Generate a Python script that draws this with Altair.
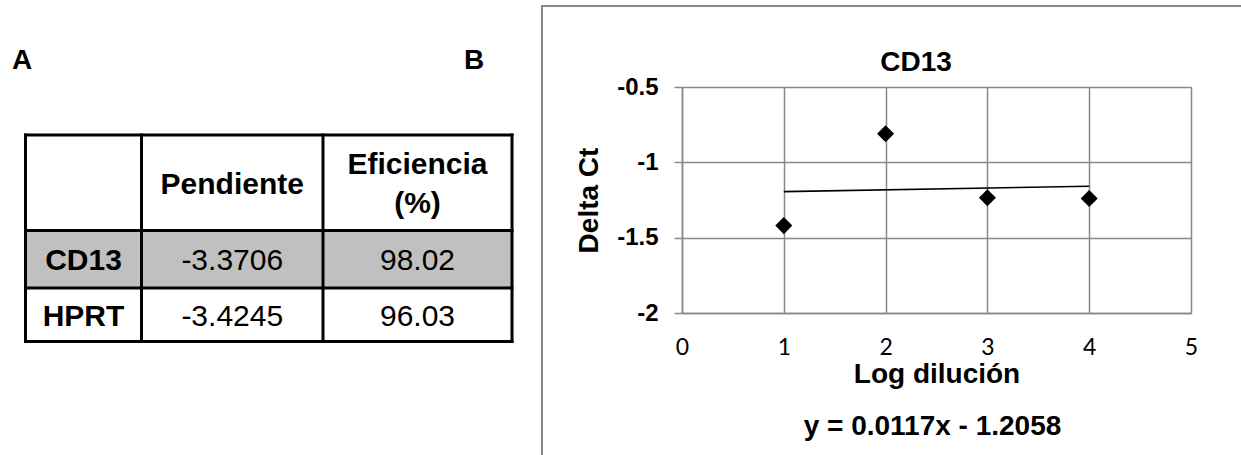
import altair as alt
import pandas as pd

# ---- Table A: standard-curve summary ----
genes = ["CD13", "HPRT"]
slopes = [-3.3706, -3.4245]
efficiencies = [98.02, 96.03]
headers = ["", "Pendiente", "Eficiencia\n(%)"]

# ---- Panel B: CD13 delta Ct vs log dilution ----
log_dilution = [1, 2, 3, 4]
delta_ct = [-1.42, -0.81, -1.235, -1.24]
fit_slope = 0.0117
fit_intercept = -1.2058

x_ticks = [0, 1, 2, 3, 4, 5]
y_ticks = [-2, -1.5, -1, -0.5]

# ---- page layout (pixels) ----
W, H = 1241, 455
PLOT_L, PLOT_T, PLOT_W, PLOT_H = 682, 87, 509, 226
COL_EDGES = [25.5, 141.5, 323, 512]
ROW_EDGES = [135, 230.5, 288, 341.5]
HEADER_LINE_GAP = 39
GRID = "#888888"
FONT = "Liberation Sans"

# page-space scales: one unit = one pixel of the full figure
px = alt.Scale(domain=[0, W], range=[-PLOT_L, W - PLOT_L])
py = alt.Scale(domain=[0, H], range=[-PLOT_T, H - PLOT_T])


def PX(f):
    return alt.X(f, type="quantitative", scale=px, axis=None)


def PY(f):
    return alt.Y(f, type="quantitative", scale=py, axis=None)


# ---------------- plot B ----------------
pts = pd.DataFrame({"x": log_dilution, "y": delta_ct})
trend = pd.DataFrame({"x": [min(log_dilution), max(log_dilution)]})
trend["y"] = fit_slope * trend["x"] + fit_intercept

X_ENC = alt.X(
    "x:Q",
    scale=alt.Scale(domain=[0, 5], nice=False, zero=False),
    axis=alt.Axis(
        orient="bottom", values=x_ticks, title="Log dilución", grid=True,
        ticks=False, labelFont="Lato", labelFontSize=23, labelColor="black",
        labelPadding=23, labelFlush=False, titleFont=FONT, titleFontSize=28,
        titleFontWeight="bold", titleColor="black", titlePadding=1,
        domainColor=GRID, domainWidth=1.5, gridColor=GRID, gridWidth=1.5,
    ),
)
Y_ENC = alt.Y(
    "y:Q",
    scale=alt.Scale(domain=[-2, -0.5], nice=False, zero=False),
    axis=alt.Axis(
        orient="left", values=y_ticks, labelExpr="'' + datum.value",
        title="Delta Ct", grid=True, tickSize=8, tickColor=GRID, tickWidth=1.5,
        labelFont=FONT, labelFontSize=24, labelFontWeight="bold",
        labelColor="black", labelPadding=16, labelFlush=False,
        titleFont=FONT, titleFontSize=28, titleFontWeight="bold",
        titleColor="black", titlePadding=13,
        domainColor=GRID, domainWidth=1.5, gridColor=GRID, gridWidth=1.5,
    ),
)

points = alt.Chart(pts).mark_point(
    shape="diamond", filled=True, size=290, color="black", opacity=1
).encode(x=X_ENC, y=Y_ENC)

fit_line = alt.Chart(trend).mark_line(color="black", strokeWidth=1.6).encode(
    x=X_ENC, y=Y_ENC
)

plot_b = alt.layer(fit_line, points)

# ---------------- page elements ----------------
# chart-area frame of panel B
frame = pd.DataFrame({"x": [542], "x2": [W + 20], "y": [6], "y2": [H + 20]})
frame_mark = alt.Chart(frame).mark_rect(
    fill="white", fillOpacity=0, stroke=GRID, strokeWidth=2
).encode(x=PX("x"), x2="x2:Q", y=PY("y"), y2="y2:Q")

# shaded CD13 row
shade = pd.DataFrame({
    "x": [COL_EDGES[0]], "x2": [COL_EDGES[-1]],
    "y": [ROW_EDGES[1]], "y2": [ROW_EDGES[2]],
})
shade_mark = alt.Chart(shade).mark_rect(fill="#c0c0c0").encode(
    x=PX("x"), x2="x2:Q", y=PY("y"), y2="y2:Q"
)

vlines = pd.DataFrame({"x": COL_EDGES, "y": ROW_EDGES[0], "y2": ROW_EDGES[-1]})
hlines = pd.DataFrame({"y": ROW_EDGES, "x": COL_EDGES[0], "x2": COL_EDGES[-1]})
vline_mark = alt.Chart(vlines).mark_rule(
    color="black", strokeWidth=3, strokeCap="square"
).encode(x=PX("x"), y=PY("y"), y2="y2:Q")
hline_mark = alt.Chart(hlines).mark_rule(
    color="black", strokeWidth=3, strokeCap="square"
).encode(x=PX("x"), x2="x2:Q", y=PY("y"))


def cx(j):
    return (COL_EDGES[j] + COL_EDGES[j + 1]) / 2


def cy(i):
    return (ROW_EDGES[i] + ROW_EDGES[i + 1]) / 2


bold_cells, plain_cells = [], []
for j, h in enumerate(headers):
    lines = [ln for ln in h.split("\n") if ln]
    n = len(lines)
    for k, ln in enumerate(lines):
        off = (k - (n - 1) / 2) * HEADER_LINE_GAP
        bold_cells.append({"x": cx(j), "y": cy(0) + off, "t": ln})
for i, g in enumerate(genes):
    bold_cells.append({"x": cx(0), "y": cy(i + 1), "t": g})
    plain_cells.append({"x": cx(1), "y": cy(i + 1), "t": f"{slopes[i]:.4f}"})
    plain_cells.append({"x": cx(2), "y": cy(i + 1), "t": f"{efficiencies[i]:.2f}"})

bold_text = alt.Chart(pd.DataFrame(bold_cells)).mark_text(
    font=FONT, fontSize=30, fontWeight="bold", color="black",
    baseline="middle", align="center", dy=2,
).encode(x=PX("x"), y=PY("y"), text="t:N")
plain_text = alt.Chart(pd.DataFrame(plain_cells)).mark_text(
    font=FONT, fontSize=30, color="black", baseline="middle", align="center", dy=2,
).encode(x=PX("x"), y=PY("y"), text="t:N")

# panel letters and chart title
labels = pd.DataFrame({
    "x": [22, 474, 916],
    "y": [60, 60, 62],
    "t": ["A", "B", "CD13"],
})
label_text = alt.Chart(labels).mark_text(
    font=FONT, fontSize=28, fontWeight="bold", color="black",
    baseline="middle", align="center", dy=1,
).encode(x=PX("x"), y=PY("y"), text="t:N")

# fitted equation under the x-axis title
equation = f"y = {fit_slope}x - {abs(fit_intercept)}"
eq = pd.DataFrame({"x": [PLOT_L + PLOT_W / 2 - 4], "y": [426], "t": [equation]})
eq_text = alt.Chart(eq).mark_text(
    font=FONT, fontSize=28, fontWeight="bold", color="black",
    baseline="middle", align="center", dy=1,
).encode(x=PX("x"), y=PY("y"), text="t:N")

page = alt.layer(
    frame_mark, shade_mark, vline_mark, hline_mark,
    bold_text, plain_text, label_text, eq_text,
)

chart = (
    alt.layer(plot_b, page)
    .resolve_scale(x="independent", y="independent")
    .properties(
        width=PLOT_W,
        height=PLOT_H,
        padding={"left": PLOT_L, "top": PLOT_T,
                 "right": W - PLOT_L - PLOT_W, "bottom": H - PLOT_T - PLOT_H},
        autosize=alt.AutoSizeParams(type="none"),
        background="white",
    )
    .configure_view(strokeWidth=0)
    .configure(font=FONT)
)

chart.save("out.html", embed_options={"renderer": "svg", "actions": False})
